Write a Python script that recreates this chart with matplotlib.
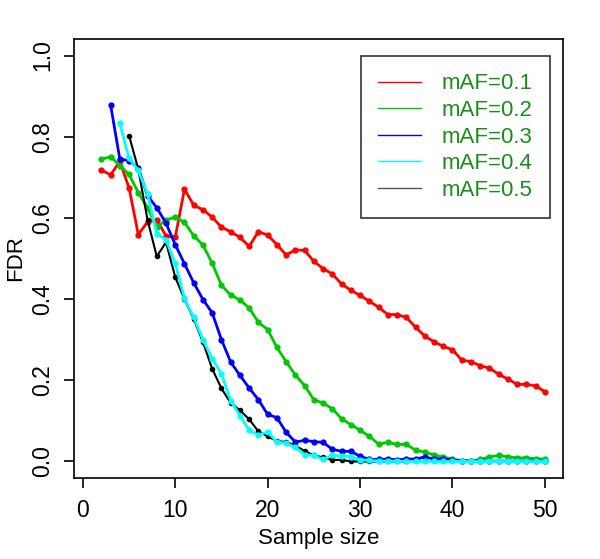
import matplotlib
matplotlib.use("Agg")
import matplotlib.pyplot as plt
from matplotlib.lines import Line2D

plt.rcParams['font.family'] = ['Liberation Sans', 'DejaVu Sans']

x_red = list(range(2, 51))
fdr_red = [0.718, 0.706, 0.739, 0.674, 0.559, 0.590, 0.596, 0.555, 0.552, 0.671,
           0.631, 0.620, 0.602, 0.577, 0.566, 0.552, 0.530, 0.566, 0.558, 0.534,
           0.509, 0.521, 0.520, 0.493, 0.475, 0.462, 0.437, 0.422, 0.409, 0.395,
           0.380, 0.362, 0.362, 0.355, 0.331, 0.309, 0.295, 0.284, 0.275, 0.250,
           0.246, 0.236, 0.230, 0.215, 0.203, 0.190, 0.190, 0.186, 0.172]

x_green = list(range(2, 51))
fdr_green = [0.744, 0.751, 0.729, 0.707, 0.662, 0.625, 0.577, 0.595, 0.602, 0.589,
             0.556, 0.533, 0.488, 0.434, 0.410, 0.398, 0.378, 0.343, 0.325, 0.281,
             0.246, 0.213, 0.187, 0.152, 0.144, 0.130, 0.105, 0.091, 0.077, 0.062,
             0.043, 0.047, 0.042, 0.042, 0.028, 0.023, 0.016, 0.011, 0.006, 0.002,
             0.001, 0.005, 0.011, 0.015, 0.011, 0.009, 0.009, 0.007, 0.006]

x_blue = list(range(3, 51))
fdr_blue = [0.879, 0.745, 0.741, 0.723, 0.655, 0.625, 0.587, 0.534, 0.487, 0.440,
            0.399, 0.366, 0.300, 0.245, 0.212, 0.181, 0.152, 0.116, 0.108, 0.072,
            0.048, 0.052, 0.049, 0.047, 0.030, 0.025, 0.025, 0.013, 0.005, 0.005,
            0.006, 0.004, 0.006, 0.006, 0.011, 0.006, 0.007, 0.003, 0.002, 0.001,
            0.001, 0.001, 0.001, 0.001, 0.001, 0.001, 0.001, 0.001]

x_cyan = list(range(4, 51))
fdr_cyan = [0.833, 0.747, 0.717, 0.660, 0.561, 0.546, 0.488, 0.402, 0.355, 0.300,
            0.253, 0.216, 0.150, 0.113, 0.077, 0.065, 0.073, 0.048, 0.045, 0.035,
            0.017, 0.015, 0.005, 0.015, 0.014, 0.012, 0.004, 0.003, 0.001, 0.001,
            0.001, 0.0, 0.0, 0.0, 0.0, 0.0, 0.0, 0.0, 0.0, 0.0,
            0.0, 0.0, 0.0, 0.0, 0.0, 0.0, 0.0]

x_black = list(range(5, 36))
fdr_black = [0.803, 0.720, 0.595, 0.505, 0.540, 0.454, 0.400, 0.351, 0.294, 0.228,
             0.180, 0.144, 0.126, 0.104, 0.074, 0.062, 0.050, 0.048, 0.039, 0.026,
             0.015, 0.010, 0.004, 0.004, 0.0, 0.0, 0.0, 0.0, 0.0, 0.0, 0.0]

labels = ["mAF=0.1", "mAF=0.2", "mAF=0.3", "mAF=0.4", "mAF=0.5"]
colors = ["#ff0000", "#00c800", "#0000ff", "#00ffff", "#000000"]

fig = plt.figure(figsize=(6, 5.59), dpi=100)
ax = fig.add_axes([0.1233, 0.1454, 0.815, 0.7843])

# black goes under cyan, as in the original
series = [(x_red, fdr_red), (x_green, fdr_green), (x_blue, fdr_blue),
          (x_black, fdr_black), (x_cyan, fdr_cyan)]
cols = [colors[0], colors[1], colors[2], colors[4], colors[3]]
for (xs, ys), c in zip(series, cols):
    lw = 1.5 if c == "#000000" else 2
    ax.plot(xs, ys, color=c, lw=lw, marker="o", ms=3.5 if c != "#000000" else 3,
            mec=c, mfc=c)

ax.set_xlim(-0.96, 51.96)
ax.set_ylim(-0.04, 1.04)
ax.set_xticks([0, 10, 20, 30, 40, 50])
ax.set_yticks([0.0, 0.2, 0.4, 0.6, 0.8, 1.0])
ax.set_yticklabels(["0.0", "0.2", "0.4", "0.6", "0.8", "1.0"], rotation=90, va="center")
ax.tick_params(labelsize=16.5, length=7, width=1.2)
ax.tick_params(axis="x", pad=8)
ax.tick_params(axis="y", pad=7)
for s in ax.spines.values():
    s.set_linewidth(1.2)
ax.set_xlabel("Sample size", fontsize=16, labelpad=5)
ax.set_ylabel("FDR", fontsize=16, labelpad=4)

handles = [Line2D([0], [0], color=c, lw=1) for c in ["#ff0000", "#00c800", "#0000ff", "#00ffff", "#555555"]]
leg = ax.legend(handles, labels, loc="upper left", bbox_to_anchor=(0.586, 0.9626),
                fontsize=16, frameon=True, fancybox=False, borderpad=0.8,
                labelspacing=0.25, handlelength=1.9, handletextpad=0.95,
                borderaxespad=0.0)
leg.get_frame().set_edgecolor("black")
leg.get_frame().set_linewidth(1.2)
for t in leg.get_texts():
    t.set_color("#1a8c1a")

fig.savefig("out.png", dpi=100)
